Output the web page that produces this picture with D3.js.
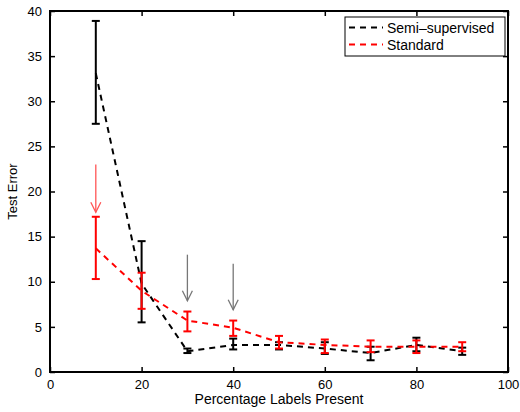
<!DOCTYPE html>
<html>
<head>
<meta charset="utf-8">
<script src="https://cdn.jsdelivr.net/npm/d3@7"></script>
<style>
  body { margin: 0; background: #fff; }
  svg { font-family: "Liberation Sans", Arial, sans-serif; }
</style>
</head>
<body>
<div id="chart"></div>
<script>
// percentage of labels present
const xs = [10, 20, 30, 40, 50, 60, 70, 80, 90];

const semiMean = [33.1, 9.8, 2.3, 3.0, 3.0, 2.6, 2.1, 3.0, 2.3];
const semiLo   = [27.5, 5.5, 2.1, 2.5, 2.5, 2.0, 1.3, 2.3, 1.9];
const semiHi   = [38.9, 14.5, 2.6, 3.7, 3.3, 3.3, 2.8, 3.8, 2.7];

const stdMean = [13.7, 9.0, 5.7, 4.9, 3.3, 3.0, 2.8, 2.8, 2.8];
const stdLo   = [10.3, 7.0, 4.5, 4.0, 2.6, 2.1, 2.2, 2.1, 2.3];
const stdHi   = [17.2, 11.0, 6.7, 5.7, 4.0, 3.6, 3.5, 3.5, 3.3];

const xTicks = [0, 20, 40, 60, 80, 100];
const yTicks = [0, 5, 10, 15, 20, 25, 30, 35, 40];

// annotation arrows: [x, yStart, yEnd, colour]
const arrows = [
    [10, 23.0, 17.7, "#f55"],
    [30, 13.0, 7.9, "#777"],
    [40, 12.0, 6.9, "#777"]
];

const width = 520, height = 412;
const margin = { left: 50, right: 12, top: 11, bottom: 40 };

const svg = d3.select("#chart").append("svg")
    .attr("width", width)
    .attr("height", height);

const xScale = d3.scaleLinear().domain([0, 100]).range([margin.left, width - margin.right]);
const yScale = d3.scaleLinear().domain([0, 40]).range([height - margin.bottom, margin.top]);

const x0 = xScale(0), x1 = xScale(100), y0 = yScale(0), y1 = yScale(40);

// axes (matlab style, ticks inside on all sides)
const axB = svg.append("g").attr("transform", `translate(0,${y0})`)
    .call(d3.axisBottom(xScale).tickValues(xTicks).tickSizeInner(-5).tickSizeOuter(0).tickPadding(8));
const axT = svg.append("g").attr("transform", `translate(0,${y1})`)
    .call(d3.axisTop(xScale).tickValues(xTicks).tickSizeInner(-5).tickSizeOuter(0).tickFormat(""));
const axL = svg.append("g").attr("transform", `translate(${x0},0)`)
    .call(d3.axisLeft(yScale).tickValues(yTicks).tickSizeInner(-5).tickSizeOuter(0).tickPadding(8));
const axR = svg.append("g").attr("transform", `translate(${x1},0)`)
    .call(d3.axisRight(yScale).tickValues(yTicks).tickSizeInner(-5).tickSizeOuter(0).tickFormat(""));

[axB, axT, axL, axR].forEach(a => {
    a.select(".domain").remove();
    a.selectAll(".tick line").attr("stroke", "#000").attr("stroke-width", 1.5);
    a.selectAll(".tick text").attr("font-size", 13).attr("fill", "#000")
        .attr("font-family", "Liberation Sans, Arial, sans-serif");
});

svg.append("rect")
    .attr("x", x0).attr("y", y1)
    .attr("width", x1 - x0).attr("height", y0 - y1)
    .attr("fill", "none").attr("stroke", "#000").attr("stroke-width", 2);

// axis labels
svg.append("text")
    .attr("x", (x0 + x1) / 2).attr("y", 404)
    .attr("text-anchor", "middle").attr("font-size", 14)
    .text("Percentage Labels Present");

svg.append("text")
    .attr("transform", `translate(17,${(y0 + y1) / 2}) rotate(-90)`)
    .attr("text-anchor", "middle").attr("font-size", 13)
    .text("Test Error");

// arrows
arrows.forEach(([ax, ya, yb, col]) => {
    const g = svg.append("g").attr("stroke", col).attr("stroke-width", 1.3).attr("fill", "none");
    g.append("line")
        .attr("x1", xScale(ax)).attr("x2", xScale(ax))
        .attr("y1", yScale(ya)).attr("y2", yScale(yb));
    g.append("path")
        .attr("d", `M${xScale(ax) - 5},${yScale(yb) - 10}L${xScale(ax)},${yScale(yb)}L${xScale(ax) + 5},${yScale(yb) - 10}`);
});

const lineGenerator = d3.line()
    .x(d => xScale(d[0]))
    .y(d => yScale(d[1]));

function drawSeries(mean, lo, hi, colour) {
    const g = svg.append("g");
    g.append("path")
        .attr("d", lineGenerator(xs.map((x, i) => [x, mean[i]])))
        .attr("stroke", colour)
        .attr("stroke-width", 2)
        .attr("stroke-dasharray", "6,5")
        .attr("fill", "none");

    const bars = g.selectAll(".err")
        .data(xs.map((x, i) => ({ x: x, lo: lo[i], hi: hi[i] })))
        .enter().append("g")
        .attr("stroke", colour)
        .attr("stroke-width", 2);

    bars.append("line")
        .attr("x1", d => xScale(d.x)).attr("x2", d => xScale(d.x))
        .attr("y1", d => yScale(d.lo)).attr("y2", d => yScale(d.hi));
    bars.append("line")
        .attr("x1", d => xScale(d.x) - 4).attr("x2", d => xScale(d.x) + 4)
        .attr("y1", d => yScale(d.lo)).attr("y2", d => yScale(d.lo));
    bars.append("line")
        .attr("x1", d => xScale(d.x) - 4).attr("x2", d => xScale(d.x) + 4)
        .attr("y1", d => yScale(d.hi)).attr("y2", d => yScale(d.hi));
}

drawSeries(semiMean, semiLo, semiHi, "#000");
drawSeries(stdMean, stdLo, stdHi, "#f00");

// legend
const legend = svg.append("g").attr("transform", "translate(345,17)");
legend.append("rect")
    .attr("width", 160).attr("height", 39)
    .attr("fill", "#fff").attr("stroke", "#000").attr("stroke-width", 1);

const legendItems = [["Semi\u2013supervised", "#000"], ["Standard", "#f00"]];
legendItems.forEach(([name, col], i) => {
    const yy = 10.5 + i * 17;
    legend.append("line")
        .attr("x1", 4).attr("x2", 38).attr("y1", yy).attr("y2", yy)
        .attr("stroke", col).attr("stroke-width", 2).attr("stroke-dasharray", "6,5");
    legend.append("text")
        .attr("x", 42).attr("y", yy + 5)
        .attr("font-size", 14)
        .text(name);
});
</script>
</body>
</html>
